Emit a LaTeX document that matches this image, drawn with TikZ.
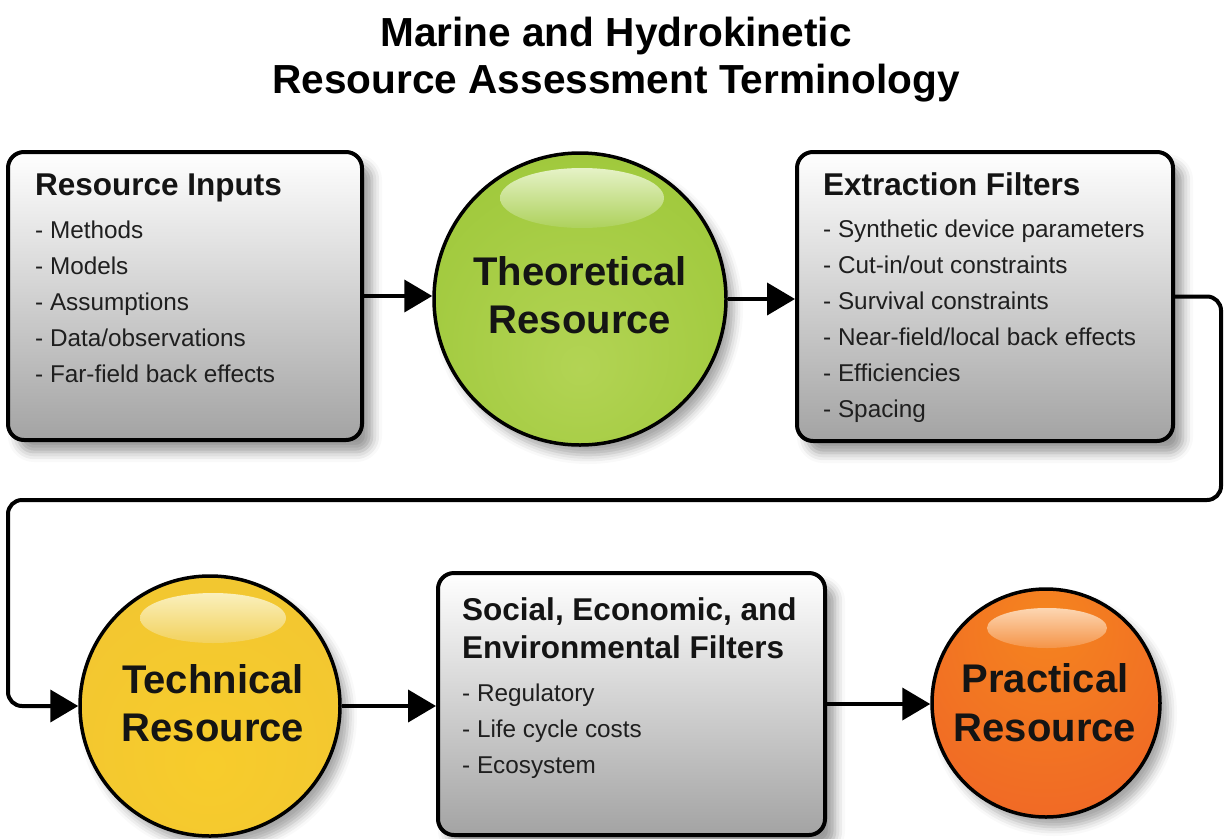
\documentclass[tikz,border=0pt]{standalone}
\usepackage{fontspec}
\setmainfont{Liberation Sans}
\usetikzlibrary{arrows.meta,shadows.blur}

\pgfdeclareradialshading{greenball}{\pgfpoint{0bp}{-12bp}}{rgb(0bp)=(0.70,0.83,0.33);rgb(30bp)=(0.63,0.79,0.24);rgb(50bp)=(0.58,0.75,0.20);rgb(62bp)=(0.52,0.70,0.16)}
\pgfdeclareradialshading{yellowball}{\pgfpoint{0bp}{-12bp}}{rgb(0bp)=(0.97,0.80,0.17);rgb(30bp)=(0.95,0.78,0.19);rgb(50bp)=(0.93,0.75,0.16);rgb(62bp)=(0.88,0.68,0.10)}
\pgfdeclareradialshading{orangeball}{\pgfpoint{0bp}{20bp}}{rgb(0bp)=(0.96,0.52,0.12);rgb(40bp)=(0.94,0.40,0.15);rgb(70bp)=(0.86,0.26,0.10)}

\definecolor{gtop}{rgb}{0.90,0.95,0.78}
\definecolor{gbot}{rgb}{0.68,0.82,0.36}
\definecolor{ytop}{rgb}{0.98,0.94,0.74}
\definecolor{ybot}{rgb}{0.95,0.82,0.36}
\definecolor{otop}{rgb}{0.99,0.84,0.70}
\definecolor{obot}{rgb}{0.96,0.58,0.28}

\tikzset{
  box/.style={draw=black, line width=4pt, rounded corners=16pt, top color=white, middle color=black!7, bottom color=black!36, inner sep=0pt,
    blur shadow={shadow xshift=10pt, shadow yshift=-12pt, shadow blur radius=10pt, shadow opacity=40}},
  ball/.style={circle, draw=black, line width=3.5pt, inner sep=0pt, shade,
    blur shadow={shadow xshift=8pt, shadow yshift=-10pt, shadow blur radius=9pt, shadow opacity=35}},
  conn/.style={line width=4pt, draw=black},
  arr/.style={conn, -{Triangle[length=28pt, width=32pt]}},
  titletext/.style={inner sep=0pt, anchor=base, font=\fontsize{40.6}{47}\selectfont\bfseries},
  headtext/.style={inner sep=0pt, anchor=base west, text=black!92, font=\fontsize{31.5}{38}\selectfont\bfseries},
  itemtext/.style={inner sep=0pt, anchor=base west, text=black!88, font=\fontsize{24.3}{30}\selectfont},
  balltext/.style={inner sep=0pt, anchor=base, text=black!92, font=\fontsize{40}{48}\selectfont\bfseries}
}

\begin{document}
\begin{tikzpicture}[x=1pt, y=-1pt]
\useasboundingbox (0,0) rectangle (1225,838);

% title
\node[titletext] (t1) at (616,46) {Marine and Hydrokinetic};
\node[titletext] (t2) at (616,93) {Resource Assessment Terminology};

% boxes
\node[box, minimum width=354pt, minimum height=288pt] (ri) at (185,296) {};
\node[box, minimum width=376pt, minimum height=289pt] (ef) at (985,296.5) {};
\node[box, minimum width=387pt, minimum height=262pt] (se) at (631.5,704) {};

% balls
\node[ball, shading=greenball, minimum size=292pt] (theo) at (580,299) {};
\node[ball, shading=yellowball, minimum size=260pt] (tech) at (210,706) {};
\node[ball, shading=orangeball, minimum size=228pt] (prac) at (1046,703) {};

% gloss highlights
\shade[top color=gtop, bottom color=gbot] (582,198) ellipse [x radius=82pt, y radius=30pt];
\shade[top color=ytop, bottom color=ybot] (213,618) ellipse [x radius=73pt, y radius=25pt];
\shade[top color=otop, bottom color=obot] (1047,628) ellipse [x radius=60pt, y radius=20pt];

% ball texts
\node[balltext] (theo1) at (580,285) {Theoretical};
\node[balltext] (theo2) at (580,333) {Resource};
\node[balltext] (tech1) at (213,693) {Technical};
\node[balltext] (tech2) at (213,741) {Resource};
\node[balltext] (prac1) at (1045,692) {Practical};
\node[balltext] (prac2) at (1045,741) {Resource};

% box texts
\node[headtext] (rih) at (35,195) {Resource Inputs};
\foreach \t [count=\i] in {Methods, Models, Assumptions, Data/observations, Far-field back effects}
  \node[itemtext] (ri\i) at (35,202+36*\i) {- \t};

\node[headtext] (efh) at (823,195) {Extraction Filters};
\foreach \t [count=\i] in {Synthetic device parameters, Cut-in/out constraints, Survival constraints, Near-field/local back effects, Efficiencies, Spacing}
  \node[itemtext] (ef\i) at (823,201+36*\i) {- \t};

\node[headtext] (seh1) at (462,620) {Social, Economic, and};
\node[headtext] (seh2) at (462,658) {Environmental Filters};
\foreach \t [count=\i] in {Regulatory, Life cycle costs, Ecosystem}
  \node[itemtext] (se\i) at (462,665+36*\i) {- \t};

% connectors
\draw[arr] (ri.east) -- (ri.east -| theo.west);
\draw[arr] (theo.east) -- (theo.east -| ef.west);
\draw[arr, rounded corners=14pt] (ef.east) -- (1221,296.5) -- (1221,500) -- (8,500) -- (8,706) -- (tech.west);
\draw[arr] (tech.east) -- (tech.east -| se.west);
\draw[arr] (se.east) -- (se.east -| prac.west);
\end{tikzpicture}
\end{document}
